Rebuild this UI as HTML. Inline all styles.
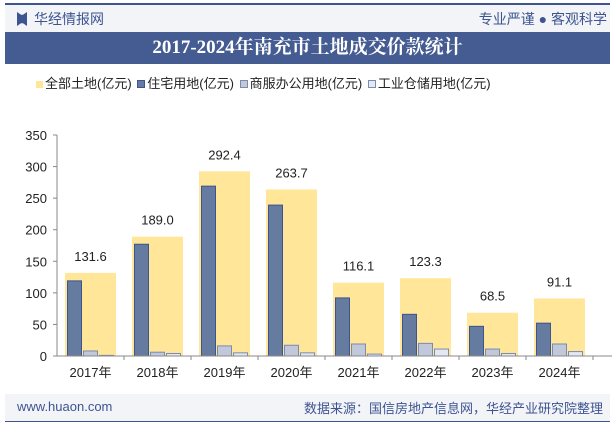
<!DOCTYPE html>
<html><head><meta charset="utf-8">
<style>
body{margin:0;width:615px;height:427px;background:#fff;font-family:"Liberation Sans","Noto Sans CJK SC",sans-serif;overflow:hidden;position:relative}
.abs{position:absolute}
</style></head>
<body>
<div class="abs" style="left:5px;top:3px;width:605px;height:2px;background:#3d5490;"></div>
<div class="abs" style="left:5px;top:5px;width:605px;height:27px;background:#f3f4f8;"></div>
<div class="abs" style="left:17px;top:12px;width:10px;height:14px;background:#3d5490;clip-path:polygon(0 0,40% 20%,60% 20%,100% 0,100% 100%,60% 80%,40% 80%,0 100%)"></div>
<div class="abs" style="left:34px;top:9px;font-size:14px;color:#3d5490;">华经情报网</div>
<div class="abs" style="right:8px;top:9px;font-size:14px;color:#3d5490;">专业严谨 ● 客观科学</div>
<div class="abs" style="left:5px;top:32px;width:605px;height:32px;background:#455c93;"></div>
<div class="abs" style="left:5px;top:32px;width:605px;height:32px;line-height:32px;text-align:center;color:#fff;font-size:19px;font-weight:bold;font-family:'Liberation Serif','Noto Serif CJK SC',serif;">2017-2024年南充市土地成交价款统计</div>
<div class="abs" style="left:36px;top:73px;font-size:13px;color:#222;white-space:nowrap;">
<span><span style="display:inline-block;width:7px;height:7px;background:#ffe699;margin-right:2px"></span>全部土地(亿元)</span>
<span style="margin-left:2px"><span style="display:inline-block;width:6px;height:6px;background:#667ba0;border:1px solid #3d5490;margin-right:2px"></span>住宅用地(亿元)</span>
<span style="margin-left:2px"><span style="display:inline-block;width:6px;height:6px;background:#c0c8d9;border:1px solid #7a8bb0;margin-right:2px"></span>商服办公用地(亿元)</span>
<span style="margin-left:2px"><span style="display:inline-block;width:6px;height:6px;background:#e3e8f2;border:1px solid #7a8bb0;margin-right:2px"></span>工业仓储用地(亿元)</span>
</div>
<svg class="abs" style="left:0;top:0" width="615" height="427" id="chart"></svg>
<div class="abs" style="left:5px;top:394px;width:605px;height:27px;background:#f3f4f8;"></div>
<div class="abs" style="left:5px;top:421px;width:605px;height:1px;background:#3d5490;"></div>
<div class="abs" style="left:17px;top:399px;font-size:13px;color:#3d5490;">www.huaon.com</div>
<div class="abs" style="right:12px;top:398px;font-size:13px;color:#3d5490;">数据来源：国信房地产信息网，华经产业研究院整理</div>
<script>
const categories=["2017年","2018年","2019年","2020年","2021年","2022年","2023年","2024年"];
const totalVals=[131.6,189.0,292.4,263.7,116.1,123.3,68.5,91.1];
const resVals=[119,177,269,239,92,66,47,52];
const comVals=[8,6,16,17,19,20,11,19];
const indVals=[1,4,5,5,3,11,4,7];
const yTicks=[0,50,100,150,200,250,300,350];
const svg=document.getElementById('chart');
const NS='http://www.w3.org/2000/svg';
const x0=57,x1=593,y0=356,y1=135,yMax=350;
const bw=(x1-x0)/categories.length;
const y=v=>y0-(v/yMax)*(y0-y1);
function mk(t,a){const e=document.createElementNS(NS,t);for(const k in a)e.setAttribute(k,a[k]);svg.appendChild(e);return e;}
let ax=mk('line',{x1:x0,y1:y1,x2:x0,y2:y0,stroke:'#888'});

yTicks.forEach(t=>{
 let l=mk('line',{x1:x0-4,x2:x0,y1:y(t),y2:y(t),stroke:'#888'});
 
 let tx=mk('text',{x:x0-10,y:y(t)+5,'text-anchor':'end','font-size':13,fill:'#222'});
 tx.textContent=t;
 
});
categories.forEach((c,i)=>{
 const gx=x0+i*bw;
 let r=mk('rect',{x:gx+8,y:y(totalVals[i]),width:51,height:y0-y(totalVals[i]),fill:'#ffe699'});
 
 const sub=[[resVals,'#667ba0','#3d5490'],[comVals,'#c0c8d9','#7a8bb0'],[indVals,'#e3e8f2','#7a8bb0']];
 sub.forEach((s,j)=>{
  let b=mk('rect',{x:gx+10.5+j*16,y:y(s[0][i]),width:14,height:y0-y(s[0][i]),fill:s[1],stroke:s[2],'stroke-width':1});
  
 });
 let lb=mk('text',{x:gx+bw/2,y:y(totalVals[i])-12,'text-anchor':'middle','font-size':13,fill:'#222'});
 lb.textContent=totalVals[i].toFixed(1);
 
 let cl=mk('text',{x:gx+bw/2,y:y0+21,'text-anchor':'middle','font-size':13,fill:'#222'});
 cl.textContent=c;
 
 let tk=mk('line',{x1:gx+bw,x2:gx+bw,y1:y0,y2:y0+4,stroke:'#888'});
 
});
let xa=mk('line',{x1:x0,y1:y0,x2:x1+19,y2:y0,stroke:'#888'});

</script>
</body></html>
